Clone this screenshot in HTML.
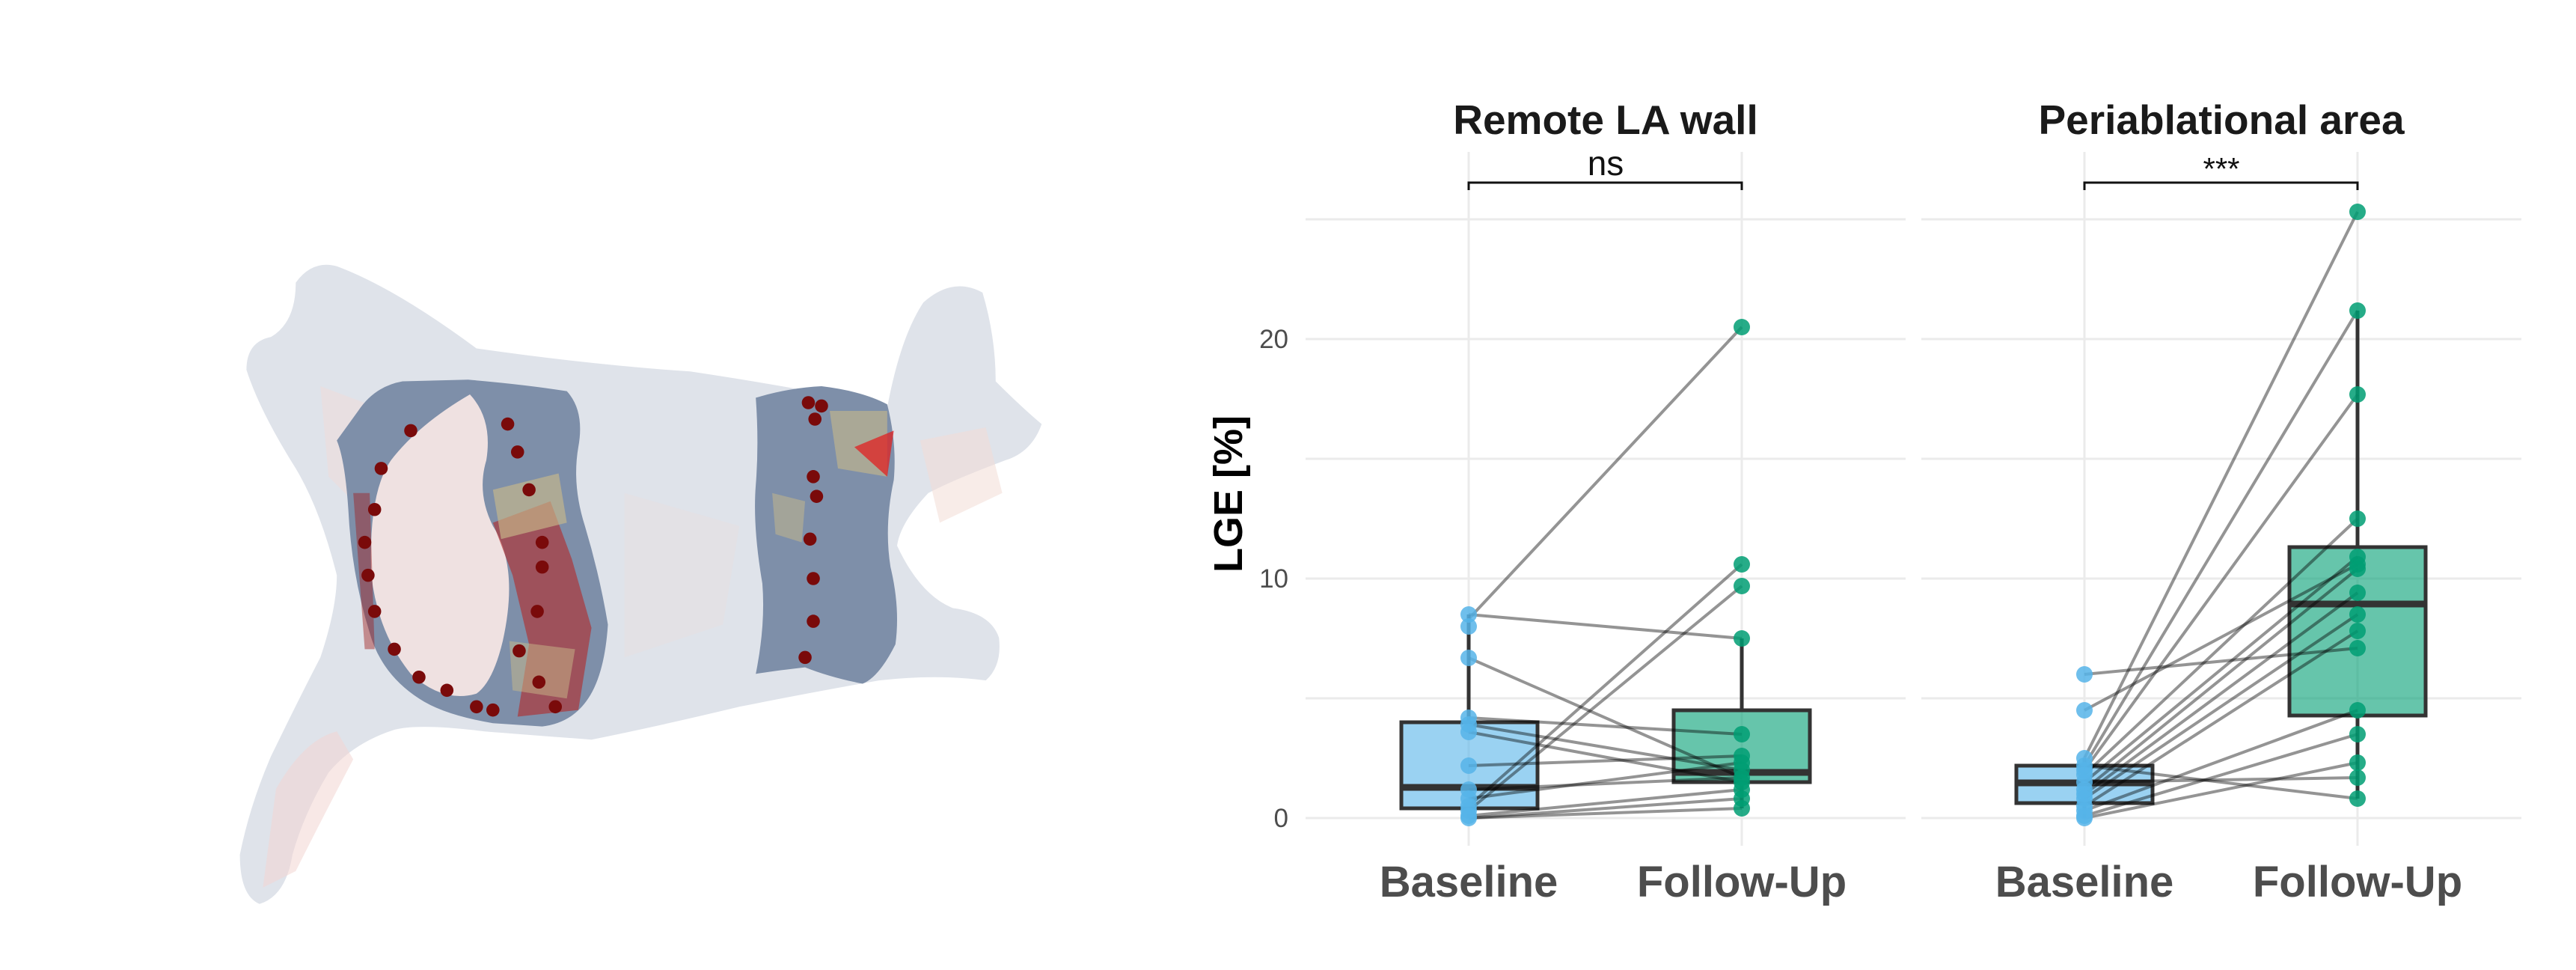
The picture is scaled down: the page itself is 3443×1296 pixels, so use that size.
<!DOCTYPE html>
<html><head><meta charset="utf-8"><style>
html,body{margin:0;padding:0;background:#fff}
svg{display:block}
</style></head><body>
<svg width="3443" height="1296" viewBox="0 0 3443 1296" xmlns="http://www.w3.org/2000/svg" font-family="Liberation Sans, sans-serif">
<!-- Heart model -->
<g transform="scale(2.196)" stroke-linejoin="round">
  <path d="M180,172 Q190,158 205,162 Q240,175 290,212 Q360,222 420,226 Q500,238 540,248 Q548,205 562,184 Q580,168 598,178 Q606,205 606,232 Q622,248 634,258 Q628,275 612,280 Q580,292 565,300 Q548,318 546,332 Q560,362 580,370 Q603,373 608,388 Q610,405 600,414 Q570,410 535,414 Q490,422 450,430 Q400,442 360,450 Q320,447 295,445 Q255,440 240,444 Q215,452 200,470 Q185,495 178,520 Q174,545 158,550 Q146,545 146,520 Q152,490 165,460 Q182,425 195,400 Q205,370 205,350 Q195,310 180,285 Q158,250 150,225 Q150,208 165,205 Q180,196 180,172 Z" fill="#dfe3ea"/>
  <path d="M195,235 L235,250 L265,232 L330,242 L300,300 L240,330 L200,290 Z" fill="#f3d9d6" opacity="0.45"/>
  <path d="M168,480 Q185,450 205,445 L215,462 Q195,500 180,530 L160,540 Z" fill="#f2d5d2" opacity="0.55"/>
  <path d="M560,268 L600,260 L610,300 L572,318 Z" fill="#f2dcd6" opacity="0.55"/>
  <path d="M380,300 L450,320 L440,380 L380,400 Z" fill="#ecdcdc" opacity="0.35"/>
  <!-- left band -->
  <path d="M218,250 Q228,235 245,232 L285,231 Q320,234 345,238 Q356,250 352,272 Q348,295 356,320 Q365,350 370,380 Q368,410 358,425 Q348,440 330,442 L300,440 Q270,435 255,425 Q232,410 225,385 Q214,350 212,310 Q210,280 205,268 Z" fill="#7e8fa9"/>
  <path d="M286,240 Q300,255 296,280 Q290,300 300,320 Q316,345 306,390 Q300,415 290,422 Q270,428 250,410 Q230,385 226,350 Q224,300 238,280 Q255,258 286,240 Z" fill="#efe1e1"/>
  <path d="M300,318 L335,305 L348,340 L360,382 L352,432 L315,436 L322,392 L312,350 Z" fill="#b42828" opacity="0.6"/>
  <path d="M300,298 L340,288 L345,318 L305,328 Z" fill="#c8b98a" opacity="0.65"/>
  <path d="M310,390 L350,395 L345,425 L312,420 Z" fill="#c8b98a" opacity="0.5"/>
  <path d="M215,300 L225,300 L228,395 L222,395 Z" fill="#a02020" opacity="0.45"/>
  <!-- right band -->
  <path d="M460,242 Q480,236 500,235 Q525,238 540,246 Q546,270 544,292 Q538,320 542,345 Q548,370 545,392 Q535,412 525,416 Q505,412 490,406 Q472,408 460,410 Q466,380 464,355 Q458,320 460,295 Q462,270 460,242 Z" fill="#7e8fa9"/>
  <path d="M505,250 L540,250 L540,290 L510,285 Z" fill="#c8b98a" opacity="0.6"/>
  <path d="M520,272 L544,262 L540,290 Z" fill="#e02020" opacity="0.75"/>
  <path d="M470,300 L490,305 L488,330 L472,325 Z" fill="#c8b98a" opacity="0.5"/>
  <g fill="#7a0a0a">
    <circle cx="309" cy="258" r="4"/><circle cx="315" cy="275" r="4"/><circle cx="322" cy="298" r="4"/>
    <circle cx="330" cy="330" r="4"/><circle cx="330" cy="345" r="4"/><circle cx="327" cy="372" r="4"/>
    <circle cx="316" cy="396" r="4"/><circle cx="328" cy="415" r="4"/><circle cx="338" cy="430" r="4"/>
    <circle cx="290" cy="430" r="4"/><circle cx="300" cy="432" r="4"/><circle cx="272" cy="420" r="4"/>
    <circle cx="250" cy="262" r="4"/><circle cx="232" cy="285" r="4"/><circle cx="228" cy="310" r="4"/>
    <circle cx="222" cy="330" r="4"/><circle cx="224" cy="350" r="4"/><circle cx="228" cy="372" r="4"/>
    <circle cx="240" cy="395" r="4"/><circle cx="255" cy="412" r="4"/>
    <circle cx="492" cy="245" r="4"/><circle cx="500" cy="247" r="4"/><circle cx="496" cy="255" r="4"/>
    <circle cx="495" cy="290" r="4"/><circle cx="497" cy="302" r="4"/><circle cx="493" cy="328" r="4"/>
    <circle cx="495" cy="352" r="4"/><circle cx="495" cy="378" r="4"/><circle cx="490" cy="400" r="4"/>
  </g>
</g>
<!-- Grid -->
<g stroke="#ebebeb" stroke-width="3">
  <line x1="1745" y1="1093" x2="2547" y2="1093"/><line x1="1745" y1="933" x2="2547" y2="933"/>
  <line x1="1745" y1="773" x2="2547" y2="773"/><line x1="1745" y1="613" x2="2547" y2="613"/>
  <line x1="1745" y1="453" x2="2547" y2="453"/><line x1="1745" y1="293" x2="2547" y2="293"/>
  <line x1="2568" y1="1093" x2="3370" y2="1093"/><line x1="2568" y1="933" x2="3370" y2="933"/>
  <line x1="2568" y1="773" x2="3370" y2="773"/><line x1="2568" y1="613" x2="3370" y2="613"/>
  <line x1="2568" y1="453" x2="3370" y2="453"/><line x1="2568" y1="293" x2="3370" y2="293"/>
  <line x1="1963" y1="203" x2="1963" y2="1130"/><line x1="2328" y1="203" x2="2328" y2="1130"/>
  <line x1="2786" y1="203" x2="2786" y2="1130"/><line x1="3151" y1="203" x2="3151" y2="1130"/>
</g>
<!-- Titles & labels -->
<text x="2146" y="179" font-size="55" font-weight="bold" fill="#1a1a1a" text-anchor="middle">Remote LA wall</text>
<text x="2969" y="179" font-size="55" font-weight="bold" fill="#1a1a1a" text-anchor="middle">Periablational area</text>
<text x="2146" y="234" font-size="46" fill="#111" text-anchor="middle">ns</text>
<text x="2969" y="240" font-size="42" fill="#111" text-anchor="middle">***</text>
<path d="M1963,254 V244 H2328 V254 M2786,254 V244 H3151 V254" fill="none" stroke="#111" stroke-width="3"/>
<g font-size="35" fill="#4d4d4d" text-anchor="end">
  <text x="1722" y="1105">0</text><text x="1722" y="785">10</text><text x="1722" y="465">20</text>
</g>
<text transform="translate(1660,660) rotate(-90)" font-size="54" font-weight="bold" fill="#000" text-anchor="middle">LGE [%]</text>
<g font-size="58" font-weight="bold" fill="#4d4d4d" text-anchor="middle">
  <text x="1963" y="1198">Baseline</text><text x="2328" y="1198">Follow-Up</text>
  <text x="2786" y="1198">Baseline</text><text x="3151" y="1198">Follow-Up</text>
</g>
<!-- Boxes -->
<g stroke="#333" stroke-width="5">
  <line x1="1963" y1="965" x2="1963" y2="821"/><line x1="1963" y1="1080" x2="1963" y2="1093"/>
  <rect x="1873" y="965" width="182" height="115" fill="#56B4E9" fill-opacity="0.6"/>
  <line x1="2328" y1="949" x2="2328" y2="853"/><line x1="2328" y1="1045" x2="2328" y2="1080"/>
  <rect x="2237" y="949" width="182" height="96" fill="#009E73" fill-opacity="0.6"/>
  <line x1="2786" y1="1023" x2="2786" y2="1013"/><line x1="2786" y1="1073" x2="2786" y2="1093"/>
  <rect x="2695" y="1023" width="182" height="50" fill="#56B4E9" fill-opacity="0.6"/>
  <line x1="3151" y1="731" x2="3151" y2="415"/><line x1="3151" y1="956" x2="3151" y2="1067"/>
  <rect x="3060" y="731" width="182" height="225" fill="#009E73" fill-opacity="0.6"/>
</g>
<g stroke="#333" stroke-width="9">
  <line x1="1873" y1="1052" x2="2055" y2="1052"/><line x1="2237" y1="1032" x2="2419" y2="1032"/>
  <line x1="2695" y1="1046" x2="2877" y2="1046"/><line x1="3060" y1="807" x2="3242" y2="807"/>
</g>
<!-- paired lines -->
<g stroke="#000" stroke-opacity="0.42" stroke-width="4">
  <line x1="1963" y1="821" x2="2328" y2="853"/><line x1="1963" y1="827" x2="2328" y2="437"/>
  <line x1="1963" y1="879" x2="2328" y2="1039"/><line x1="1963" y1="959" x2="2328" y2="981"/>
  <line x1="1963" y1="968" x2="2328" y2="1029"/><line x1="1963" y1="978" x2="2328" y2="1045"/>
  <line x1="1963" y1="1023" x2="2328" y2="1010"/><line x1="1963" y1="1055" x2="2328" y2="1039"/>
  <line x1="1963" y1="1077" x2="2328" y2="754"/><line x1="1963" y1="1083" x2="2328" y2="783"/>
  <line x1="1963" y1="1067" x2="2328" y2="1019"/><line x1="1963" y1="1090" x2="2328" y2="1055"/>
  <line x1="1963" y1="1093" x2="2328" y2="1067"/><line x1="1963" y1="1093" x2="2328" y2="1080"/>
  <line x1="2786" y1="901" x2="3151" y2="866"/><line x1="2786" y1="949" x2="3151" y2="754"/>
  <line x1="2786" y1="1013" x2="3151" y2="283"/><line x1="2786" y1="1023" x2="3151" y2="415"/>
  <line x1="2786" y1="1029" x2="3151" y2="527"/><line x1="2786" y1="1035" x2="3151" y2="693"/>
  <line x1="2786" y1="1045" x2="3151" y2="744"/><line x1="2786" y1="1055" x2="3151" y2="760"/>
  <line x1="2786" y1="1061" x2="3151" y2="792"/><line x1="2786" y1="1067" x2="3151" y2="821"/>
  <line x1="2786" y1="1077" x2="3151" y2="843"/><line x1="2786" y1="1083" x2="3151" y2="949"/>
  <line x1="2786" y1="1090" x2="3151" y2="981"/><line x1="2786" y1="1023" x2="3151" y2="1067"/>
  <line x1="2786" y1="1045" x2="3151" y2="1039"/><line x1="2786" y1="1093" x2="3151" y2="1019"/>
</g>
<!-- points -->
<g fill="#56B4E9" fill-opacity="0.85">
  <circle cx="1963" cy="821" r="11"/><circle cx="1963" cy="837" r="11"/><circle cx="1963" cy="879" r="11"/>
  <circle cx="1963" cy="959" r="11"/><circle cx="1963" cy="968" r="11"/><circle cx="1963" cy="978" r="11"/>
  <circle cx="1963" cy="1023" r="11"/><circle cx="1963" cy="1055" r="11"/><circle cx="1963" cy="1067" r="11"/>
  <circle cx="1963" cy="1077" r="11"/><circle cx="1963" cy="1083" r="11"/><circle cx="1963" cy="1090" r="11"/>
  <circle cx="1963" cy="1093" r="11"/>
  <circle cx="2786" cy="901" r="11"/><circle cx="2786" cy="949" r="11"/><circle cx="2786" cy="1013" r="11"/>
  <circle cx="2786" cy="1023" r="11"/><circle cx="2786" cy="1029" r="11"/><circle cx="2786" cy="1035" r="11"/>
  <circle cx="2786" cy="1045" r="11"/><circle cx="2786" cy="1055" r="11"/><circle cx="2786" cy="1061" r="11"/>
  <circle cx="2786" cy="1067" r="11"/><circle cx="2786" cy="1077" r="11"/><circle cx="2786" cy="1083" r="11"/>
  <circle cx="2786" cy="1090" r="11"/><circle cx="2786" cy="1093" r="11"/>
</g>
<g fill="#009E73" fill-opacity="0.85">
  <circle cx="2328" cy="437" r="11"/><circle cx="2328" cy="754" r="11"/><circle cx="2328" cy="783" r="11"/>
  <circle cx="2328" cy="853" r="11"/><circle cx="2328" cy="981" r="11"/><circle cx="2328" cy="1010" r="11"/>
  <circle cx="2328" cy="1019" r="11"/><circle cx="2328" cy="1029" r="11"/><circle cx="2328" cy="1039" r="11"/>
  <circle cx="2328" cy="1045" r="11"/><circle cx="2328" cy="1055" r="11"/><circle cx="2328" cy="1067" r="11"/>
  <circle cx="2328" cy="1080" r="11"/>
  <circle cx="3151" cy="283" r="11"/><circle cx="3151" cy="415" r="11"/><circle cx="3151" cy="527" r="11"/>
  <circle cx="3151" cy="693" r="11"/><circle cx="3151" cy="744" r="11"/><circle cx="3151" cy="754" r="11"/>
  <circle cx="3151" cy="760" r="11"/><circle cx="3151" cy="792" r="11"/><circle cx="3151" cy="821" r="11"/>
  <circle cx="3151" cy="843" r="11"/><circle cx="3151" cy="866" r="11"/><circle cx="3151" cy="949" r="11"/>
  <circle cx="3151" cy="981" r="11"/><circle cx="3151" cy="1019" r="11"/><circle cx="3151" cy="1039" r="11"/>
  <circle cx="3151" cy="1067" r="11"/>
</g>
</svg>
</body></html>
